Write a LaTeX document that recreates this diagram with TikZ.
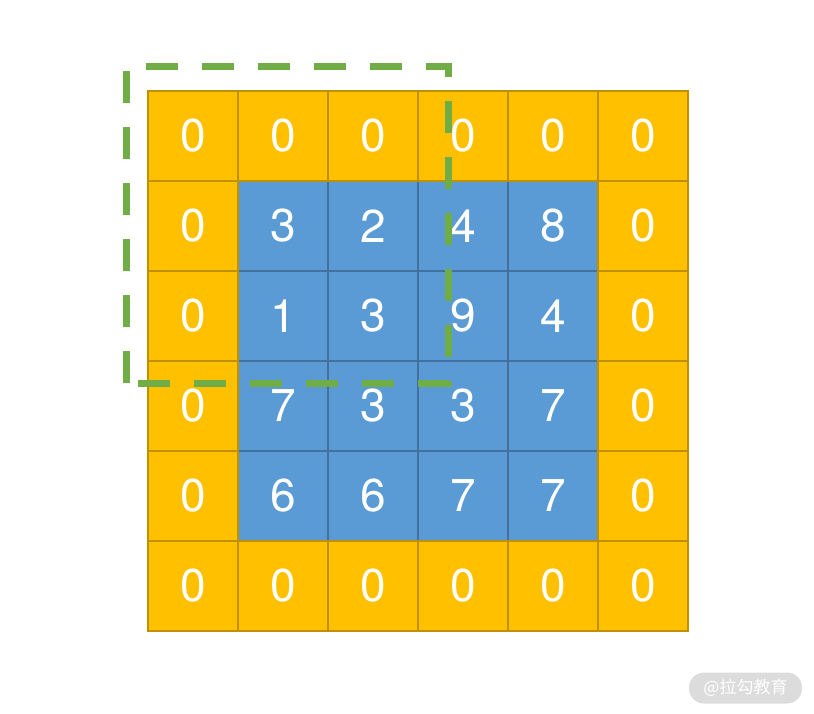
\documentclass[tikz,border=0pt]{standalone}
\usepackage{fontspec}
\setmainfont{TeX Gyre Heros}
\newfontfamily\cjk{Noto Sans CJK SC}
\definecolor{cellorange}{HTML}{FFC000}
\definecolor{edgeorange}{HTML}{BF9000}
\definecolor{cellblue}{HTML}{5B9BD5}
\definecolor{edgeblue}{HTML}{41719C}
\definecolor{dashgreen}{HTML}{70AD47}
\definecolor{wmgray}{HTML}{DCDCDC}
\tikzset{
  orangecell/.style={draw=edgeorange, fill=cellorange, line width=1.6pt, minimum size=90pt, inner sep=0pt, outer sep=0pt, text=white, font=\fontsize{46}{46}\selectfont},
  bluecell/.style={draw=edgeblue, fill=cellblue, line width=1.6pt, minimum size=90pt, inner sep=0pt, outer sep=0pt, text=white, font=\fontsize{46}{46}\selectfont},
  window/.style={draw=dashgreen, line width=7pt, dash pattern=on 32pt off 24pt},
}
\begin{document}
\begin{tikzpicture}[x=1pt,y=-1pt]
\useasboundingbox (0,0) rectangle (814,714);
% blue inner cells
\foreach \r/\c/\v in {1/1/3,1/2/2,1/3/4,1/4/8,
                       2/1/1,2/2/3,2/3/9,2/4/4,
                       3/1/7,3/2/3,3/3/3,3/4/7,
                       4/1/6,4/2/6,4/3/7,4/4/7}{
  \node[bluecell] (b\r\c) at ({148+90*\c+45},{91+90*\r+45}) {\v};
}
% orange padding cells
\foreach \r/\c in {0/0,0/1,0/2,0/3,0/4,0/5,
                   1/0,2/0,3/0,4/0,
                   1/5,2/5,3/5,4/5,
                   5/0,5/1,5/2,5/3,5/4,5/5}{
  \node[orangecell] (o\r\c) at ({148+90*\c+45},{91+90*\r+45}) {0};
}
% dashed window
\coordinate (wbl) at (126,383);
\coordinate (wtl) at (126,67);
\coordinate (wtr) at (448,67);
\coordinate (wbr) at (448,383);
\draw[window] (wbl) -- (wtl) -- (wtr) -- (wbr) -- cycle;
% watermark
\node[fill=wmgray, rounded corners=15pt, minimum width=113pt, minimum height=31pt, inner sep=0pt, text=white, font=\cjk\fontsize{17}{17}\selectfont] (wm) at (745.5,688) {@拉勾教育};
\end{tikzpicture}
\end{document}
